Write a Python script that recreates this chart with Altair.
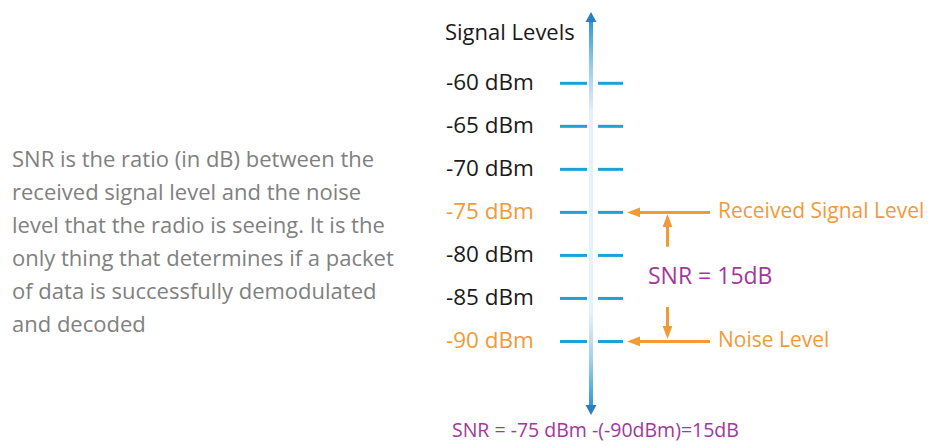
import altair as alt
import pandas as pd

# ---------------- data ----------------
levels = [-60, -65, -70, -75, -80, -85, -90]
level_labels = ["-60 dBm", "-65 dBm", "-70 dBm", "-75 dBm", "-80 dBm", "-85 dBm", "-90 dBm"]
received_dbm = -75
noise_dbm = -90
snr_db = received_dbm - noise_dbm
axis_title = "Signal Levels"
received_label = "Received Signal Level"
noise_label = "Noise Level"
snr_label = f"SNR = {snr_db}dB"
formula_label = "SNR = -75 dBm -(-90dBm)=15dB"
paragraph = [
    "SNR is the ratio (in dB) between the",
    "received signal level and the noise",
    "level that the radio is seeing. It is the",
    "only thing that determines if a packet",
    "of data is successfully demodulated",
    "and decoded",
]

# ---------------- styles ----------------
FONT = "Open Sans"
ORANGE = "#F29A38"
PURPLE = "#A3379C"
BLUE = "#1BA2D9"
DARKBLUE = "#2B7FBF"
BLACK = "#1a1a1a"
GRAY = "#808080"

lev = pd.DataFrame({
    "dbm": levels,
    "label": level_labels,
    "kind": ["mark" if v in (received_dbm, noise_dbm) else "plain" for v in levels],
})
one = pd.DataFrame({"dbm": [received_dbm]})
ann = pd.DataFrame({"dbm": [received_dbm, noise_dbm], "label": [received_label, noise_label]})

H = 437
yscale = alt.Scale(domain=[-101.1 - (H - 429) / 8.607, -51.25], nice=False, zero=False)
Y = lambda f="dbm": alt.Y(f, type="quantitative", scale=yscale, axis=None)

color_scale = alt.Scale(domain=["mark", "plain"], range=[ORANGE, BLACK])

# paragraph
para = alt.Chart(one).mark_text(
    font=FONT, fontSize=22, color=GRAY, align="left", baseline="middle", lineHeight=33
).encode(x=alt.value(4), y=alt.value(152), text=alt.value(paragraph))

# title
title = alt.Chart(one).mark_text(
    font=FONT, fontSize=22, color=BLACK, align="left", baseline="middle"
).encode(x=alt.value(437), y=alt.value(25), text=alt.value(axis_title))

# shaft with gradient
grad = alt.Gradient(
    gradient="linear",
    stops=[
        alt.GradientStop(color="#2F9AD6", offset=0),
        alt.GradientStop(color="#9CCDEB", offset=0.12),
        alt.GradientStop(color="#E8F1F9", offset=0.24),
        alt.GradientStop(color="#E8F1F9", offset=0.76),
        alt.GradientStop(color="#9CCDEB", offset=0.89),
        alt.GradientStop(color="#2F9AD6", offset=1),
    ],
    x1=0, x2=0, y1=0, y2=1,
)
shaft = alt.Chart(one).mark_rect(color=grad).encode(
    x=alt.value(581), x2=alt.value(585), y=alt.value(14), y2=alt.value(397)
)
head_up = alt.Chart(one).mark_point(
    shape="M-1,0.9L0,-0.9L1,0.9Z", size=121, filled=True, color=DARKBLUE, opacity=1
).encode(x=alt.value(583), y=alt.value(9))
head_dn = alt.Chart(one).mark_point(
    shape="M-1,-0.9L0,0.9L1,-0.9Z", size=121, filled=True, color=DARKBLUE, opacity=1
).encode(x=alt.value(583), y=alt.value(402))

# level dashes
dash_l = alt.Chart(lev).mark_rule(color=BLUE, strokeWidth=3).encode(
    x=alt.value(552), x2=alt.value(579), y=Y()
)
dash_r = alt.Chart(lev).mark_rule(color=BLUE, strokeWidth=3).encode(
    x=alt.value(590), x2=alt.value(615), y=Y()
)
labels = alt.Chart(lev).mark_text(
    font=FONT, fontSize=22.5, align="left", baseline="middle"
).encode(
    x=alt.value(438), y=Y(), text="label:N",
    color=alt.Color("kind:N", scale=color_scale, legend=None),
)

# annotation arrows (horizontal)
h_rule = alt.Chart(ann).mark_rule(color=ORANGE, strokeWidth=3).encode(
    x=alt.value(630), x2=alt.value(702), y=Y()
)
h_head = alt.Chart(ann).mark_point(
    shape="M1,-0.75L-1,0L1,0.75Z", size=169, filled=True, color=ORANGE, opacity=1
).encode(x=alt.value(625.5), y=Y())
ann_text = alt.Chart(ann).mark_text(
    font=FONT, fontSize=21, color=ORANGE, align="left", baseline="middle"
).encode(x=alt.value(710), y=Y(), text="label:N")

# vertical arrows
varr = pd.DataFrame({
    "y1": [received_dbm - 4.0, noise_dbm + 4.0],
    "y2": [received_dbm - 1.2, noise_dbm + 1.5],
})
v_rule = alt.Chart(varr).mark_rule(color=ORANGE, strokeWidth=3).encode(
    x=alt.value(659.5), y=Y("y1"), y2="y2:Q"
)
v_up = alt.Chart(pd.DataFrame({"dbm": [received_dbm - 0.93]})).mark_point(
    shape="M-0.75,1L0,-1L0.75,1Z", size=169, filled=True, color=ORANGE, opacity=1
).encode(x=alt.value(659.5), y=Y())
v_dn = alt.Chart(pd.DataFrame({"dbm": [noise_dbm + 1.05]})).mark_point(
    shape="M-0.75,-1L0,1L0.75,-1Z", size=169, filled=True, color=ORANGE, opacity=1
).encode(x=alt.value(659.5), y=Y())

snr_text = alt.Chart(pd.DataFrame({"dbm": [(received_dbm + noise_dbm) / 2]})).mark_text(
    font=FONT, fontSize=23, color=PURPLE, align="left", baseline="middle"
).encode(x=alt.value(640), y=Y(), text=alt.value(snr_label))

formula = alt.Chart(one).mark_text(
    font=FONT, fontSize=19.5, color=PURPLE, align="left", baseline="middle"
).encode(x=alt.value(444), y=alt.value(423), text=alt.value(formula_label))

chart = alt.layer(
    para, title, shaft, head_up, head_dn, dash_l, dash_r, labels,
    h_rule, h_head, ann_text, v_rule, v_up, v_dn, snr_text, formula,
).properties(
    width=917, height=H, padding=0, autosize=alt.AutoSizeParams(type="none")
).configure(background="white").configure_view(stroke=None)

chart.save("out.html", embed_options={"renderer": "svg", "actions": False})
